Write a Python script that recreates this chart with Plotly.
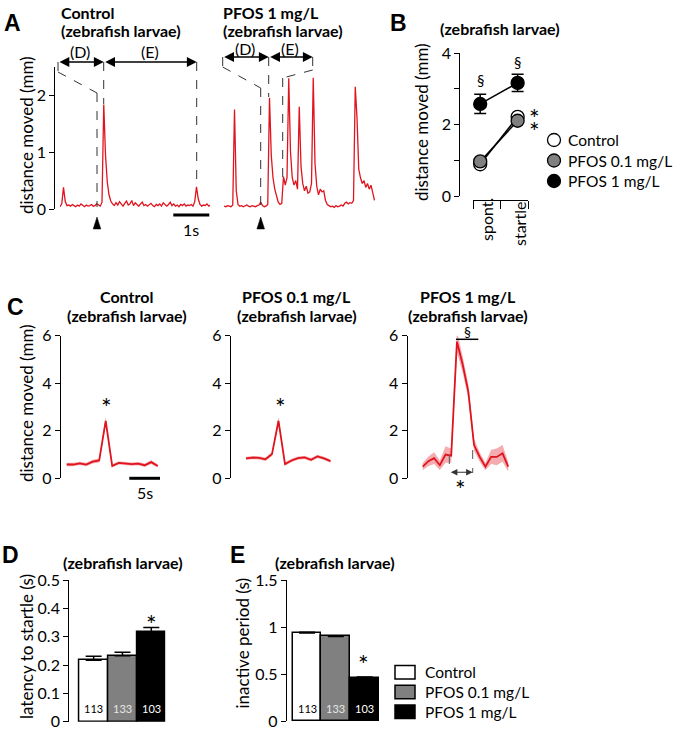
import plotly.graph_objects as go

W, H = 674, 731
FONT = "Lato, 'Open Sans', sans-serif"
RED = "#e0141e"
BAND = "rgba(232, 70, 80, 0.45)"

# ---------------- data ----------------
# A: single-larva traces (distance moved, mm) sampled every 50 ms
a_dt = 0.05
a_control = [
    0.04, 0.09, 0.38, 0.13, 0.06, 0.07, 0.05, 0.08, 0.06, 0.04,
    0.07, 0.05, 0.09, 0.06, 0.04, 0.07, 0.05, 0.06, 0.08, 0.05,
    0.06, 0.09, 0.07, 0.05, 0.12, 1.84, 0.95, 0.48, 0.25, 0.14,
    0.09, 0.06, 0.11, 0.07, 0.13, 0.08, 0.05, 0.10, 0.14, 0.07,
    0.09, 0.15, 0.06, 0.11, 0.08, 0.05, 0.09, 0.12, 0.06, 0.08,
    0.05, 0.07, 0.10, 0.06, 0.04, 0.08, 0.06, 0.09, 0.05, 0.11,
    0.07, 0.05, 0.08, 0.12, 0.06, 0.09, 0.05, 0.07, 0.04, 0.08,
    0.06, 0.09, 0.05, 0.07, 0.06, 0.08, 0.05, 0.13, 0.39, 0.18,
    0.08, 0.05, 0.07, 0.06, 0.09, 0.05, 0.07,
]
a_pfos1 = [
    0.05, 0.04, 0.06, 0.05, 0.04, 0.07, 1.75, 0.32, 0.08, 0.05,
    0.06, 0.04, 0.05, 0.07, 0.05, 0.04, 0.06, 0.05, 0.04, 0.06,
    0.07, 0.12, 0.06, 0.04, 0.05, 0.08, 1.96, 0.95, 0.55, 0.35,
    0.22, 0.12, 0.08, 0.10, 0.57, 0.42, 0.55, 2.30, 1.00, 0.55,
    0.42, 0.50, 0.35, 1.80, 0.75, 0.45, 0.32, 0.40, 0.28, 0.30,
    0.45, 2.31, 0.80, 0.40, 0.25, 0.35, 0.30, 0.32, 0.15, 0.08,
    0.06, 0.04, 0.05, 0.03, 0.06, 0.04, 0.05, 0.07, 0.05, 0.10,
    0.12, 0.09, 0.11, 0.10, 0.15, 2.15, 1.60, 0.70, 0.55, 0.45,
    0.50, 0.38, 0.45, 0.35, 0.42, 0.28, 0.15,
]

# B: spontaneous vs startle distance
groups = ["Control", "PFOS 0.1 mg/L", "PFOS 1 mg/L"]
group_colors = ["white", "#808080", "black"]
b_conditions = ["spont.", "startle"]
b_control = [0.89, 2.22]
b_control_err = [0.05, 0.05]
b_pfos01 = [0.97, 2.11]
b_pfos01_err = [0.06, 0.06]
b_pfos1 = [2.58, 3.17]
b_pfos1_err = [0.27, 0.24]

# C: averaged traces around stimulus (1 s bins), mean and SEM
c_control_t = list(range(0, 15))
c_control = [0.58, 0.58, 0.63, 0.58, 0.70, 0.75, 2.42, 0.52, 0.65, 0.62,
             0.60, 0.62, 0.55, 0.68, 0.52]
c_control_sem = [0.07, 0.07, 0.07, 0.07, 0.08, 0.08, 0.16, 0.07, 0.07, 0.07,
                 0.07, 0.07, 0.07, 0.08, 0.07]
c_pfos01_t = list(range(1, 15))
c_pfos01 = [0.84, 0.87, 0.86, 0.80, 1.02, 2.42, 0.60, 0.75, 0.85, 0.88,
            0.78, 0.92, 0.84, 0.72]
c_pfos01_sem = [0.07, 0.07, 0.07, 0.07, 0.08, 0.16, 0.07, 0.07, 0.07, 0.07,
                0.07, 0.07, 0.07, 0.07]
c_pfos1_t = list(range(0, 16))
c_pfos1 = [0.49, 0.72, 0.85, 0.55, 1.00, 0.95, 5.75, 4.80, 3.65, 1.40,
           0.90, 0.49, 0.90, 0.90, 1.05, 0.49]
c_pfos1_sem = [0.15, 0.20, 0.25, 0.20, 0.35, 0.30, 0.45, 0.35, 0.30, 0.25,
               0.20, 0.15, 0.30, 0.35, 0.35, 0.20]

# D / E: bar charts
bar_x = [0, 1, 2]
n_fish = ["113", "133", "103"]
n_colors = ["black", "#e6e6e6", "white"]
d_latency = [0.217, 0.233, 0.315]
d_latency_err = [0.014, 0.012, 0.017]
e_inactive = [0.935, 0.90, 0.455]
e_inactive_err = [0.010, 0.008, 0.012]


# ---------------- helpers (pixel -> paper) ----------------
def X(px):
    return px / W


def Y(py):
    return 1 - py / H


def yax(top, bottom, rng, pos, tickvals, ticktext=None, visible=True):
    d = dict(domain=[Y(bottom), Y(top)], range=rng, anchor="free", position=X(pos),
             showline=True, linecolor="black", linewidth=1.3, ticks="outside",
             ticklen=5, tickwidth=1.3, tickcolor="black", tickvals=tickvals,
             showgrid=False, zeroline=False, tickfont=dict(size=16, color="black"),
             visible=visible, automargin=False)
    if ticktext is not None:
        d["ticktext"] = ticktext
    return d


def xax(left, right, rng):
    return dict(domain=[X(left), X(right)], range=rng, visible=False,
                anchor="free", position=0, automargin=False)


annotations = []
shapes = []


def note(text, x, y, size=17, bold=False, xa="center", ya="middle", angle=0,
         color="black", family=None):
    annotations.append(dict(
        text=f"<b>{text}</b>" if bold else text, x=X(x), y=Y(y), xref="paper",
        yref="paper", showarrow=False, xanchor=xa, yanchor=ya, textangle=angle,
        font=dict(size=size, color=color, family=family or FONT)))


def star(x, y):
    # visual centre of the asterisk at (x, y)
    note("*", x, y + 7, size=25)


def dash(x0, y0, x1, y1, color="#333333"):
    shapes.append(dict(type="line", xref="paper", yref="paper", x0=X(x0), y0=Y(y0),
                       x1=X(x1), y1=Y(y1), line=dict(color=color, width=1, dash="dash")))


def solid(x0, y0, x1, y1, width=1.5):
    shapes.append(dict(type="line", xref="paper", yref="paper", x0=X(x0), y0=Y(y0),
                       x1=X(x1), y1=Y(y1), line=dict(color="black", width=width)))


def darrow(x1, x2, y, width=1.4, size=1.4, color="black"):
    annotations.append(dict(
        x=X(x2), y=Y(y), xref="paper", yref="paper", ax=-(x2 - x1), ay=0,
        axref="pixel", ayref="pixel", text="", showarrow=True, arrowhead=2,
        startarrowhead=2, arrowside="end+start", arrowwidth=width,
        arrowsize=size, startarrowsize=size, arrowcolor=color))


def triangle(x, ytop, ybot, half=3.8):
    shapes.append(dict(
        type="path", xref="paper", yref="paper",
        path=f"M{X(x - half)},{Y(ybot)} L{X(x)},{Y(ytop)} L{X(x + half)},{Y(ybot)} Z",
        fillcolor="black", line=dict(color="black", width=0.5)))


fig = go.Figure()

# ---------------- A ----------------
a_t = [i * a_dt for i in range(len(a_control))]
fig.add_trace(go.Scatter(x=a_t, y=a_control, xaxis="x", yaxis="y", mode="lines",
                         line=dict(color=RED, width=1.3)))
a_t2 = [i * a_dt for i in range(len(a_pfos1))]
fig.add_trace(go.Scatter(x=a_t2, y=a_pfos1, xaxis="x2", yaxis="y2", mode="lines",
                         line=dict(color=RED, width=1.3)))

# ---------------- B ----------------
b_x = [0, 1]
b_sets = [(b_control, b_control_err), (b_pfos01, b_pfos01_err), (b_pfos1, b_pfos1_err)]
for vals, err in b_sets:
    fig.add_trace(go.Scatter(x=b_x, y=vals, xaxis="x3", yaxis="y3", mode="lines",
                             line=dict(color="black", width=1.5), cliponaxis=False))
for (vals, err), name, col in zip(b_sets, groups, group_colors):
    fig.add_trace(go.Scatter(
        x=b_x, y=vals, xaxis="x3", yaxis="y3", mode="markers", name=name,
        marker=dict(size=13, color=col, line=dict(color="black", width=1.3)),
        error_y=dict(type="data", array=err, color="black", thickness=1.5, width=6),
        cliponaxis=False))

# ---------------- C ----------------
for t, m, s, xa, ya in [(c_control_t, c_control, c_control_sem, "x4", "y4"),
                        (c_pfos01_t, c_pfos01, c_pfos01_sem, "x5", "y5"),
                        (c_pfos1_t, c_pfos1, c_pfos1_sem, "x6", "y6")]:
    upper = [a + b for a, b in zip(m, s)]
    lower = [a - b for a, b in zip(m, s)]
    fig.add_trace(go.Scatter(x=t, y=upper, xaxis=xa, yaxis=ya, mode="lines",
                             line=dict(width=0, color=BAND)))
    fig.add_trace(go.Scatter(x=t, y=lower, xaxis=xa, yaxis=ya, mode="lines",
                             line=dict(width=0, color=BAND), fill="tonexty",
                             fillcolor=BAND))
    fig.add_trace(go.Scatter(x=t, y=m, xaxis=xa, yaxis=ya, mode="lines",
                             line=dict(color=RED, width=1.8)))

# ---------------- D / E ----------------
for vals, err, xa, ya in [(d_latency, d_latency_err, "x7", "y7"),
                          (e_inactive, e_inactive_err, "x8", "y8")]:
    fig.add_trace(go.Bar(
        x=bar_x, y=vals, xaxis=xa, yaxis=ya, width=1,
        marker=dict(color=group_colors, line=dict(color="black", width=1.5)),
        error_y=dict(type="data", symmetric=False, array=err, arrayminus=[0, 0, 0],
                     color="black", thickness=1.5, width=8),
        cliponaxis=False))
    for i, n in enumerate(n_fish):
        annotations.append(dict(text=n, x=bar_x[i], y=Y(716.5), xref=xa, yref="paper",
                                showarrow=False, font=dict(size=11, color=n_colors[i],
                                                           family=FONT)))

# ---------------- layout / axes ----------------
layout = dict(
    width=W, height=H, margin=dict(l=0, r=0, t=0, b=0, autoexpand=False),
    paper_bgcolor="white", plot_bgcolor="white",
    font=dict(family=FONT, color="black", size=16),
    bargap=0,
    showlegend=False,
    # A
    xaxis=xax(60, 210, [0, 4.286]),
    yaxis=yax(67, 209, [0, 2.5], 54.3, [0, 1, 2]),
    xaxis2=xax(224, 376, [0, 4.343]),
    yaxis2=yax(67, 209, [0, 2.5], 224, [0, 1, 2], visible=False),
    # B
    xaxis3=dict(domain=[X(472.7), X(528.3)], range=[-0.2, 1.285], anchor="free",
                position=Y(199.5), showline=True, linecolor="black", linewidth=1.3,
                ticks="outside", ticklen=8, tickwidth=1.3, tickcolor="black",
                tickvals=[-0.19, 0.55, 1.277], showticklabels=False, showgrid=False,
                zeroline=False, automargin=False),
    yaxis3=yax(53.3, 196, [0, 4], 459.3, [0, 1, 2, 3, 4], ["0", "", "2", "", "4"]),
    # C
    xaxis4=xax(60, 162, [-1.03, 14.66]),
    yaxis4=yax(335.7, 478.3, [0, 6], 60, [0, 2, 4, 6]),
    xaxis5=xax(230, 335, [-1.46, 14.69]),
    yaxis5=yax(335.7, 478.3, [0, 6], 230, [0, 2, 4, 6]),
    xaxis6=xax(406.7, 515, [-2.81, 16.19]),
    yaxis6=yax(335.7, 478.3, [0, 6], 406.7, [0, 2, 4, 6]),
    # D / E
    xaxis7=xax(68.3, 165.7, [-0.88, 2.5]),
    yaxis7=yax(580, 721.7, [0, 0.5], 68.3, [0, 0.1, 0.2, 0.3, 0.4, 0.5],
               ["0", "0.1", "0.2", "0.3", "0.4", "0.5"]),
    xaxis8=xax(286, 379, [-0.73, 2.5]),
    yaxis8=yax(580, 721, [0, 1.5], 286, [0, 0.5, 1, 1.5], ["0", "0.5", "1", "1.5"]),
)

# ---------------- decorations & text ----------------
LETTER = "Arial, 'Liberation Sans', sans-serif"
for letter, x, y in [("A", 12.5, 23), ("B", 398, 23), ("C", 15, 307), ("D", 10, 555),
                     ("E", 237, 555)]:
    note(letter, x, y, size=23, bold=True, family=LETTER)

# A titles
note("Control", 59, 13, size=16, bold=True, xa="left")
note("(zebrafish larvae)", 59, 31, size=16, bold=True, xa="left")
note("PFOS 1 mg/L", 221, 13, size=16, bold=True, xa="left")
note("(zebrafish larvae)", 221, 31, size=16, bold=True, xa="left")
note("distance moved (mm)", 26, 135, angle=-90)

# A dashed guides and arrows (left)
dash(58, 62, 58, 72)
dash(58, 72, 97, 93)
dash(97, 93, 97, 207)
dash(103.7, 62, 103.7, 104)
dash(196.7, 62, 196.7, 188)
darrow(58, 103.7, 62)
darrow(103.7, 196.7, 62)
note("(D)", 80, 51, size=16)
note("(E)", 150, 51, size=16)
triangle(97, 217, 229)
solid(173.3, 215, 209.3, 215, width=3)
note("1s", 191, 229, size=16)
# A dashed guides and arrows (right)
dash(222.7, 57, 222.7, 67)
dash(222.7, 67, 260.7, 88)
dash(260.7, 88, 260.7, 205)
dash(268.7, 57, 268.7, 97)
dash(312.7, 57, 312.7, 70)
dash(312.7, 70, 282.7, 78)
dash(282.7, 78, 282.7, 178)
darrow(222.7, 268.7, 57)
darrow(268.7, 312.7, 57)
note("(D)", 245, 48, size=16)
note("(E)", 290, 48, size=16)
triangle(260.7, 217, 229)

# B text and legend
note("(zebrafish larvae)", 500, 29, size=16, bold=True)
note("distance moved (mm)", 422, 122, angle=-90)
note(b_conditions[0], 486, 220, angle=-90, size=16)
note(b_conditions[1], 519, 224, angle=-90, size=16)
note("§", 480, 80, size=15)
note("§", 517.7, 62, size=15)
star(534, 111.5)
star(534, 123.5)
for i, (name, col) in enumerate(zip(groups, group_colors)):
    yc = 140 + i * 20.5
    shapes.append(dict(type="circle", xref="paper", yref="paper", x0=X(547.5),
                       x1=X(560.5), y0=Y(yc + 6.5), y1=Y(yc - 6.5), fillcolor=col,
                       line=dict(color="black", width=1.3)))
    note(name, 566, yc, size=15.5, xa="left")

# C text
note("Control", 126.7, 297, size=16, bold=True)
note("(zebrafish larvae)", 126.7, 315.5, size=16, bold=True)
note("PFOS 0.1 mg/L", 296.7, 297, size=16, bold=True)
note("(zebrafish larvae)", 296.7, 315.5, size=16, bold=True)
note("PFOS 1 mg/L", 468, 297, size=16, bold=True)
note("(zebrafish larvae)", 468, 315.5, size=16, bold=True)
note("distance moved (mm)", 26, 403, angle=-90)
star(106, 399.5)
star(280, 400)
solid(129.3, 478.3, 160, 478.3, width=3)
note("5s", 145, 492, size=16)
solid(456, 339.3, 478.3, 339.3, width=1.5)
note("§", 467, 331, size=14)
dash(449.3, 455, 449.3, 473, color="#555555")
dash(472.7, 450, 472.7, 473, color="#555555")
darrow(449.3, 472.7, 472.3, width=1.1, size=1.2, color="#333333")
star(460.7, 482)

# D / E text
note("(zebrafish larvae)", 123.3, 562, size=16, bold=True)
note("latency to startle (s)", 26, 647, angle=-90)
star(151.7, 616.5)
note("(zebrafish larvae)", 334.7, 562, size=16, bold=True)
note("inactive period (s)", 241.5, 643, angle=-90)
star(363.3, 656.5)

# E legend (rectangles + labels)
for i, (name, col) in enumerate(zip(groups, group_colors)):
    yc = 672.3 + i * 19.7
    shapes.append(dict(type="rect", xref="paper", yref="paper", x0=X(395), x1=X(415),
                       y0=Y(yc + 6.7), y1=Y(yc - 6.7), fillcolor=col,
                       line=dict(color="black", width=1.5)))
    note(name, 423, yc, size=15.5, xa="left")

layout["annotations"] = annotations
layout["shapes"] = shapes
fig.update_layout(**layout)

# the page's default body margin would push the figure 8 px off the window
fig.write_html("out.html", config={"displayModeBar": False},
               post_script="document.body.style.margin = '0';")
